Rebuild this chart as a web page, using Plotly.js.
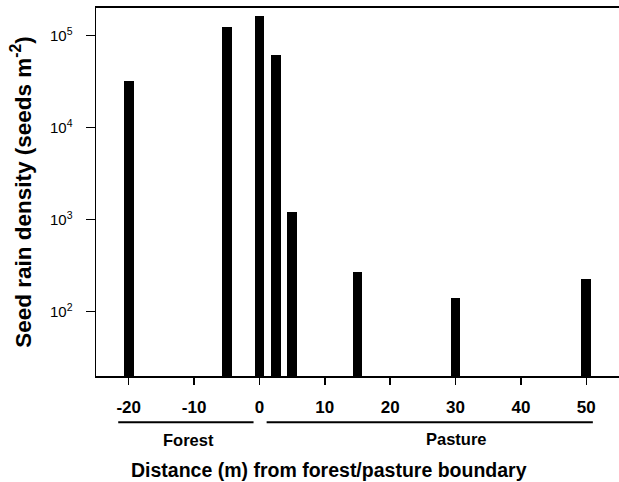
<!DOCTYPE html>
<html>
<head>
<meta charset="utf-8">
<script src="https://cdn.plot.ly/plotly-3.0.1.min.js"></script>
<style>html,body{margin:0;padding:0;background:#fff;}#chart{width:619px;height:482px;}</style>
</head>
<body>
<div id="chart"></div>
<script>
// Data
const distances = [-20, -5, 0, 2.5, 5, 15, 30, 50];
const seedDensity = [32500, 124000, 165000, 62000, 1200, 271, 142, 228];
const xTickVals = [-20, -10, 0, 10, 20, 30, 40, 50];
const yTickVals = [100, 1000, 10000, 100000];
const yTickText = ['10<sup>2</sup>', '10<sup>3</sup>', '10<sup>4</sup>', '10<sup>5</sup>'];
const zoneNames = ['Forest', 'Pasture'];
const zoneStart = [-21.6, 1.1];
const zoneEnd = [-0.9, 51];
const xTitle = 'Distance (m) from forest/pasture boundary';

const font = 'Arial, "Liberation Sans", Helvetica, sans-serif';

const trace = {
  type: 'bar',
  x: distances,
  y: seedDensity,
  width: 1.5,
  marker: {color: '#000000', line: {width: 0}},
  hoverinfo: 'x+y'
};

const shapes = zoneNames.map((n, i) => ({
  type: 'line', xref: 'x', yref: 'paper',
  x0: zoneStart[i], x1: zoneEnd[i], y0: -0.126, y1: -0.126,
  line: {color: '#000', width: 2}
}));

const annotations = [
  {text: '<b>' + zoneNames[0] + '</b>', xref: 'x', yref: 'paper', x: -10.9, y: -0.175,
   showarrow: false, font: {family: font, size: 16.5, color: '#000'}, xanchor: 'center', yanchor: 'middle'},
  {text: '<b>' + zoneNames[1] + '</b>', xref: 'x', yref: 'paper', x: 30.2, y: -0.17,
   showarrow: false, font: {family: font, size: 16.5, color: '#000'}, xanchor: 'center', yanchor: 'middle'},
  {text: '<b>' + xTitle + '</b>', xref: 'paper', yref: 'paper', x: 0.4455, y: -0.255,
   showarrow: false, font: {family: font, size: 19.5, color: '#000'}, xanchor: 'center', yanchor: 'middle'}
];

const layout = {
  width: 619, height: 482,
  margin: {l: 96, r: 0, t: 8, b: 106},
  paper_bgcolor: '#fff', plot_bgcolor: '#fff',
  showlegend: false,
  font: {family: font, color: '#000'},
  bargap: 0,
  xaxis: {
    range: [-25, 55],
    tickvals: xTickVals,
    ticktext: xTickVals.map(String),
    tickfont: {family: font, size: 17, color: '#000', weight: 'bold'},
    ticks: 'outside', ticklen: 7, tickwidth: 1.5, tickcolor: '#000',
    ticklabelstandoff: 8,
    showline: true, linecolor: '#000', linewidth: 2, mirror: true,
    showgrid: false, zeroline: false
  },
  yaxis: {
    type: 'log',
    range: [Math.log10(20), Math.log10(200000)],
    tickvals: yTickVals,
    ticktext: yTickText,
    tickfont: {family: font, size: 15, color: '#000'},
    ticks: 'outside', ticklen: 9, tickwidth: 1.5, tickcolor: '#000',
    ticklabelstandoff: 10,
    showline: true, linecolor: '#000', linewidth: 1.5, mirror: false,
    showgrid: false, zeroline: false,
    title: {text: '<b>Seed rain density (seeds m<sup>-2</sup>)</b>', font: {family: font, size: 22.5, color: '#000'}, standoff: 12}
  },
  shapes: shapes,
  annotations: annotations
};

Plotly.newPlot('chart', [trace], layout, {displayModeBar: false, staticPlot: true});
</script>
</body>
</html>
